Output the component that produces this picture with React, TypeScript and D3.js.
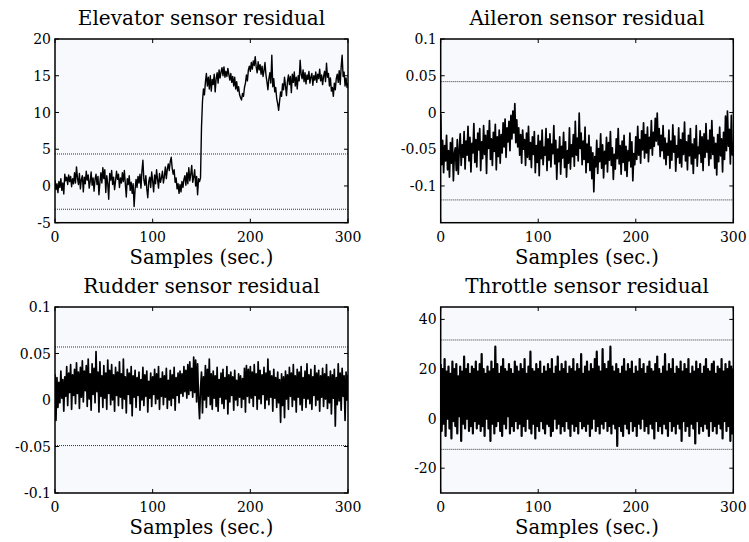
import React from 'react';
import * as d3 from 'd3';

// ---------- data (one value per second) ----------
const elevator = [
  0.8, -0.5, 0.3, -0.9, 0.6, -0.2, 1.0, -0.6, 0.4, -1.1,
  1.6, 0.7, 1.2, 0.2, 1.5, 0.6, 1.3, -0.1, 1.0, 0.3,
  1.8, 0.4, 2.6, 1.1, 0.2, 1.7, -0.4, 0.9, 1.4, -0.8,
  1.2, 0.3, 2.0, 0.8, 1.5, -0.3, 0.6, 1.9, 0.1, 1.1,
  -0.7, 0.9, 1.6, 0.2, 1.3, -1.2, 0.5, 1.8, 0.4, 2.5,
  1.0, 2.2, -0.9, 1.4, 0.3, -1.8, 1.7, 0.8, 2.1, 0.2,
  1.2, -0.5, 0.7, 2.0, 0.9, 1.6, -0.2, 1.1, 0.4, 1.8,
  0.6, 2.1, 0.3, -1.5, 1.0, 0.2, 1.4, -0.6, 0.5, -1.0,
  0.3, -2.8, -0.5, 0.9, -0.2, 1.3, 0.4, 1.6, -0.3, 2.0,
  3.5, 0.8, 0.1, 1.4, -0.4, -1.6, 0.6, 1.2, -0.2, 1.9,
  0.7, -0.8, 1.5, 0.3, 2.2, 0.9, -0.3, 1.7, 0.5, 1.1,
  2.0, 0.4, 1.3, 2.6, 1.0, 2.3, 3.0, 2.1, 3.3, 3.9,
  2.4, 1.6, 2.2, 0.5, 1.1, -0.4, 0.3, -1.0, 0.2, -0.8,
  0.6, -0.2, 0.9, 1.4, 0.1, 1.8, 0.3, 2.5, 0.7, 1.6,
  2.8, 0.5, 1.2, 2.2, 0.0, 1.3, -1.2, 1.0, 0.6, 1.1,
  8.0, 11.5, 13.2, 12.4, 14.1, 15.3, 13.6, 14.8, 13.2, 15.0,
  12.9, 14.5, 13.8, 15.2, 12.8, 14.6, 15.4, 14.0, 15.8, 14.7,
  15.5, 16.1, 15.0, 16.2, 14.8, 15.6, 14.9, 16.0, 15.2, 14.4,
  15.3, 14.1, 14.9, 13.6, 14.8, 13.2, 14.2, 12.9, 13.5, 12.4,
  12.0, 11.7, 12.6, 12.2, 13.4, 14.0, 15.1, 14.3, 15.8, 16.3,
  15.6, 16.8, 15.9, 17.0, 16.4, 17.6, 16.2, 15.4, 16.9, 15.8,
  16.5, 15.2, 16.3, 14.9, 15.7, 16.8, 15.1, 14.2, 13.1, 14.6,
  15.4, 14.0, 17.8, 13.5, 14.6, 12.8, 13.4, 11.9, 11.2, 10.3,
  11.6, 12.8, 12.2, 13.9, 13.1, 14.8, 13.6, 12.3, 14.2, 15.1,
  13.8, 14.9, 12.7, 15.2, 14.1, 15.5, 13.6, 14.8, 13.2, 15.0,
  14.3, 17.1, 15.2, 14.6, 15.8, 14.2, 15.4, 13.9, 15.1, 14.5,
  15.6, 14.0, 14.8, 15.3, 13.7, 15.0, 14.4, 15.5, 14.1, 15.2,
  14.6, 15.9, 14.3, 15.1, 13.8, 14.9, 15.6, 14.2, 16.7, 14.8,
  15.3, 13.6, 14.7, 12.9, 13.4, 12.2, 14.0, 13.1, 14.6, 15.2,
  14.1, 15.7, 13.8, 16.2, 17.8, 14.9, 15.5, 13.6, 14.7, 13.4,
  14.0,
];

const aileron = [
  -0.002, -0.071, -0.038, -0.082, -0.045, -0.066, -0.031, -0.078, -0.052, -0.088,
  -0.041, -0.069, -0.035, -0.093, -0.056, -0.048, -0.079, -0.037, -0.084, -0.051,
  -0.029, -0.072, -0.044, -0.061, -0.026, -0.077, -0.039, -0.058, -0.019, -0.066,
  -0.034, -0.081, -0.042, -0.055, -0.015, -0.068, -0.037, -0.074, -0.028, -0.051,
  -0.022, -0.079, -0.040, -0.063, -0.018, -0.057, -0.031, -0.083, -0.025, -0.049,
  -0.011, -0.064, -0.036, -0.072, -0.027, -0.053, -0.016, -0.078, -0.033, -0.060,
  -0.024, -0.069, -0.030, -0.055, -0.014, -0.047, -0.009, -0.061, -0.021, -0.040,
  -0.012, -0.052, -0.004, -0.036, 0.002, -0.028, 0.012, -0.041, -0.010, -0.047,
  -0.021, -0.058, -0.030, -0.069, -0.024, -0.050, -0.037, -0.072, -0.028, -0.061,
  -0.019, -0.064, -0.041, -0.075, -0.033, -0.057, -0.026, -0.082, -0.045, -0.068,
  -0.031, -0.086, -0.039, -0.063, -0.024, -0.071, -0.047, -0.058, -0.022, -0.079,
  -0.036, -0.065, -0.029, -0.074, -0.043, -0.056, -0.018, -0.070, -0.038, -0.091,
  -0.050, -0.067, -0.033, -0.084, -0.046, -0.062, -0.027, -0.075, -0.040, -0.088,
  -0.052, -0.069, -0.021, -0.077, -0.044, -0.060, -0.030, -0.073, -0.012, -0.058,
  -0.035, -0.066, -0.001, -0.049, -0.028, -0.071, -0.039, -0.064, -0.020, -0.082,
  -0.043, -0.068, -0.031, -0.079, -0.047, -0.090, -0.055, -0.108, -0.060, -0.074,
  -0.038, -0.083, -0.049, -0.067, -0.029, -0.076, -0.044, -0.089, -0.053, -0.070,
  -0.034, -0.081, -0.041, -0.065, -0.026, -0.072, -0.048, -0.091, -0.057, -0.077,
  -0.036, -0.063, -0.022, -0.070, -0.045, -0.084, -0.039, -0.068, -0.031, -0.079,
  -0.046, -0.087, -0.052, -0.066, -0.028, -0.074, -0.040, -0.093, -0.056, -0.071,
  -0.033, -0.064, -0.019, -0.058, -0.037, -0.069, -0.025, -0.051, -0.014, -0.062,
  -0.030, -0.055, -0.020, -0.067, -0.034, -0.049, -0.011, -0.058, -0.027, -0.046,
  -0.008, -0.039, -0.001, -0.044, -0.022, -0.060, -0.031, -0.052, -0.018, -0.063,
  -0.035, -0.071, -0.042, -0.058, -0.024, -0.076, -0.039, -0.065, -0.017, -0.054,
  -0.032, -0.080, -0.045, -0.061, -0.021, -0.069, -0.037, -0.074, -0.028, -0.057,
  -0.013, -0.066, -0.040, -0.078, -0.031, -0.059, -0.022, -0.070, -0.043, -0.083,
  -0.036, -0.062, -0.018, -0.073, -0.047, -0.056, -0.025, -0.068, -0.033, -0.079,
  -0.029, -0.061, -0.015, -0.054, -0.038, -0.072, -0.024, -0.063, -0.011, -0.057,
  -0.034, -0.076, -0.042, -0.085, -0.030, -0.067, -0.020, -0.059, -0.036, -0.081,
  -0.027, -0.064, -0.005, -0.052, 0.002, -0.046, -0.023, -0.070, -0.004, -0.058,
  -0.041,
];

const rudder = [
  0.028, -0.022, 0.024, -0.008, 0.019, -0.003, 0.031, 0.002, 0.022, -0.012,
  0.025, 0.004, 0.036, -0.006, 0.029, 0.008, 0.038, -0.010, 0.027, 0.005,
  0.033, -0.004, 0.040, 0.007, 0.030, -0.009, 0.035, 0.003, 0.042, -0.002,
  0.031, 0.010, 0.037, -0.007, 0.044, 0.001, 0.028, -0.011, 0.039, 0.006,
  0.034, -0.003, 0.052, 0.009, 0.030, -0.013, 0.041, 0.004, 0.026, -0.008,
  0.037, 0.002, 0.029, -0.010, 0.043, 0.007, 0.032, -0.005, 0.038, 0.000,
  0.027, -0.012, 0.035, 0.005, 0.030, -0.006, 0.041, 0.003, 0.028, -0.009,
  0.044, 0.001, 0.025, -0.014, 0.033, 0.006, 0.029, -0.004, 0.036, -0.017,
  0.026, 0.003, 0.032, -0.008, 0.024, 0.005, 0.030, -0.011, 0.022, 0.000,
  0.035, -0.006, 0.027, 0.004, 0.031, -0.013, 0.020, 0.002, 0.029, -0.007,
  0.025, 0.006, 0.033, -0.004, 0.028, 0.001, 0.036, -0.010, 0.023, 0.004,
  0.030, -0.005, 0.026, 0.003, 0.034, -0.009, 0.021, 0.000, 0.032, -0.006,
  0.027, 0.002, 0.035, -0.011, 0.024, 0.005, 0.029, -0.003, 0.031, 0.007,
  0.028, 0.004, 0.036, 0.009, 0.032, 0.002, 0.038, 0.006, 0.041, 0.010,
  0.034, 0.003, 0.046, 0.008, 0.043, -0.002, 0.039, 0.001, -0.020, 0.012,
  0.030, -0.014, 0.025, 0.000, 0.037, -0.008, 0.033, 0.004, 0.044, -0.005,
  0.028, -0.010, 0.031, 0.002, 0.026, -0.007, 0.035, -0.012, 0.022, 0.003,
  0.029, -0.004, 0.033, -0.009, 0.024, 0.001, 0.036, -0.015, 0.027, -0.002,
  0.030, 0.005, 0.025, -0.011, 0.032, 0.000, 0.021, -0.006, 0.028, 0.003,
  0.026, -0.008, 0.023, 0.001, 0.034, -0.013, 0.037, 0.004, 0.033, -0.003,
  0.036, 0.002, 0.030, -0.007, 0.038, 0.005, 0.028, -0.010, 0.041, 0.001,
  0.032, -0.004, 0.027, 0.006, 0.035, -0.009, 0.029, 0.000, 0.044, -0.005,
  0.031, 0.003, 0.026, -0.012, 0.033, 0.002, 0.024, -0.008, 0.030, -0.003,
  0.022, -0.024, 0.028, -0.006, 0.025, -0.019, 0.031, 0.001, 0.027, -0.010,
  0.035, 0.004, 0.029, -0.007, 0.038, 0.000, 0.026, -0.013, 0.033, 0.003,
  0.030, -0.005, 0.036, -0.011, 0.024, 0.002, 0.031, -0.008, 0.039, 0.001,
  0.027, -0.004, 0.033, -0.010, 0.025, 0.005, 0.037, -0.006, 0.029, 0.000,
  0.032, -0.012, 0.026, 0.003, 0.034, -0.007, 0.028, 0.001, 0.038, -0.009,
  0.025, -0.003, 0.031, -0.015, 0.027, 0.002, 0.033, -0.028, 0.024, -0.005,
  0.039, -0.001, 0.029, -0.011, 0.034, 0.004, 0.026, -0.022, 0.030, 0.000,
  0.027,
];

const throttle = [
  22, -5, 20, -2, 24, -7, 19, 0, 21, -4,
  18, -8, 23, -1, 20, -3, 22, -6, 17, 1,
  21, -9, 19, -2, 25, -4, 20, 0, 22, -5,
  18, -3, 21, -6, 20, -1, 23, -4, 19, -2,
  22, -5, 26, -3, 20, -7, 18, 0, 21, -4,
  19, -9, 23, -2, 20, -6, 29, -3, 22, -1,
  18, -5, 21, -7, 24, -2, 20, -4, 19, 1,
  22, -6, 20, -3, 18, -5, 23, -1, 21, -4,
  19, -2, 22, -7, 20, -3, 24, -5, 18, 0,
  21, -4, 27, -6, 20, -2, 19, -8, 22, -3,
  20, -5, 23, -1, 18, -4, 21, -6, 19, -2,
  22, -3, 20, -7, 24, -5, 18, 0, 21, -4,
  25, -2, 19, -6, 22, -3, 20, -5, 23, -1,
  18, -4, 21, -7, 20, -2, 24, -5, 19, -3,
  22, -6, 20, -1, 26, -4, 18, -3, 21, -5,
  23, -2, 19, -7, 22, -4, 20, 0, 24, -5,
  27, -3, 21, -6, 19, -2, 28, -4, 22, -1,
  20, -5, 23, -3, 29, -6, 21, -2, 19, -4,
  22, -11, 20, -3, 18, -5, 21, -7, 24, -2,
  19, -4, 22, -6, 20, -1, 23, -5, 18, -3,
  21, -7, 19, -2, 24, -4, 20, 0, 22, -5,
  18, -3, 21, -6, 23, -2, 20, -4, 19, -8,
  22, -1, 25, -5, 20, -3, 18, -6, 21, -2,
  26, -4, 19, -7, 22, -1, 20, -5, 24, -3,
  18, -6, 21, -2, 20, -4, 23, -9, 19, -1,
  22, -5, 20, -3, 24, -7, 18, -2, 21, -4,
  19, -10, 23, -1, 20, -6, 22, -3, 18, -5,
  21, -2, 24, -4, 20, -7, 19, -1, 22, -5,
  23, -3, 18, -6, 21, -2, 20, -4, 24, -8,
  19, -1, 22, -5, 20, -3, 23, -9, 21, -6,
  20,
];

// threshold (dotted) lines
const elevatorThresholds = [4.35, -3.17];
const aileronThresholds = [0.042, -0.119];
const rudderThresholds = [0.057, -0.049];
const throttleThresholds = [31.7, -12.4];

// axis ticks
const xTicks = [0, 100, 200, 300];
const elevatorTicks = [-5, 0, 5, 10, 15, 20];
const aileronTicks = [-0.1, -0.05, 0, 0.05, 0.1];
const rudderTicks = [-0.1, -0.05, 0, 0.05, 0.1];
const throttleTicks = [-20, 0, 20, 40];

const titles = [
  'Elevator sensor residual',
  'Aileron sensor residual',
  'Rudder sensor residual',
  'Throttle sensor residual',
];
const xLabel = 'Samples (sec.)';

const FONT = 'DejaVu Serif';

type PanelProps = {
  id: string;
  box: { x0: number; x1: number; y0: number; y1: number };
  domain: [number, number];
  data: number[];
  thresholds: number[];
  yTicks: number[];
  title: string;
  lineWidth: number;
};

function Panel({ id, box, domain, data, thresholds, yTicks, title, lineWidth }: PanelProps) {
  const x = d3.scaleLinear().domain([0, 300]).range([box.x0, box.x1]);
  const y = d3.scaleLinear().domain(domain).range([box.y1, box.y0]);
  const line = d3
    .line<number>()
    .x((_, i) => x(i))
    .y((d) => y(d));
  const tl = 4;
  const cx = (box.x0 + box.x1) / 2;
  return (
    <g>
      <defs>
        <clipPath id={`clip-${id}`}>
          <rect x={box.x0} y={box.y0} width={box.x1 - box.x0} height={box.y1 - box.y0} />
        </clipPath>
      </defs>
      <rect
        x={box.x0}
        y={box.y0}
        width={box.x1 - box.x0}
        height={box.y1 - box.y0}
        fill="#f7f9fd"
      />
      {thresholds.map((t, i) => (
        <line
          key={`t${i}`}
          x1={box.x0}
          x2={box.x1}
          y1={y(t)}
          y2={y(t)}
          stroke="#333"
          strokeWidth={1}
          strokeDasharray="1,1"
        />
      ))}
      <path
        d={line(data) || ''}
        fill="none"
        stroke="#000"
        strokeWidth={lineWidth}
        strokeLinejoin="round"
        clipPath={`url(#clip-${id})`}
      />
      {xTicks.map((t) => (
        <g key={`xt${t}`}>
          <line x1={x(t)} x2={x(t)} y1={box.y1} y2={box.y1 - tl} stroke="#000" strokeWidth={1} />
          <line x1={x(t)} x2={x(t)} y1={box.y0} y2={box.y0 + tl} stroke="#000" strokeWidth={1} />
          <text
            x={x(t)}
            y={box.y1 + 19}
            textAnchor="middle"
            fontFamily={FONT}
            fontSize={14}
            fill="#000"
          >
            {t}
          </text>
        </g>
      ))}
      {yTicks.map((t) => (
        <g key={`yt${t}`}>
          <line x1={box.x0} x2={box.x0 + tl} y1={y(t)} y2={y(t)} stroke="#000" strokeWidth={1} />
          <line x1={box.x1} x2={box.x1 - tl} y1={y(t)} y2={y(t)} stroke="#000" strokeWidth={1} />
          <text
            x={box.x0 - 4}
            y={y(t)}
            dy="0.36em"
            textAnchor="end"
            fontFamily={FONT}
            fontSize={14}
            fill="#000"
          >
            {String(t)}
          </text>
        </g>
      ))}
      <rect
        x={box.x0}
        y={box.y0}
        width={box.x1 - box.x0}
        height={box.y1 - box.y0}
        fill="none"
        stroke="#000"
        strokeWidth={1.5}
      />
      <text
        x={cx}
        y={box.y0 - 14}
        textAnchor="middle"
        fontFamily={FONT}
        fontSize={20}
        fill="#000"
      >
        {title}
      </text>
      <text
        x={cx}
        y={box.y1 + 41}
        textAnchor="middle"
        fontFamily={FONT}
        fontSize={19.5}
        fill="#000"
      >
        {xLabel}
      </text>
    </g>
  );
}

export default function App() {
  const L = { x0: 55, x1: 348 };
  const R = { x0: 440.7, x1: 733.3 };
  const T = { y0: 39, y1: 222.7 };
  const B = { y0: 307, y1: 493 };
  return (
    <svg
      width={749}
      height={542}
      style={{ position: 'absolute', left: 0, top: 0, background: '#fff' }}
    >
      <rect x={0} y={0} width={749} height={542} fill="#fff" />
      <Panel
        id="elev"
        box={{ ...L, ...T }}
        domain={[-5, 20]}
        data={elevator}
        thresholds={elevatorThresholds}
        yTicks={elevatorTicks}
        title={titles[0]}
        lineWidth={1.4}
      />
      <Panel
        id="ail"
        box={{ ...R, ...T }}
        domain={[-0.15, 0.1]}
        data={aileron}
        thresholds={aileronThresholds}
        yTicks={aileronTicks}
        title={titles[1]}
        lineWidth={1.7}
      />
      <Panel
        id="rud"
        box={{ ...L, ...B }}
        domain={[-0.1, 0.1]}
        data={rudder}
        thresholds={rudderThresholds}
        yTicks={rudderTicks}
        title={titles[2]}
        lineWidth={1.7}
      />
      <Panel
        id="thr"
        box={{ ...R, ...B }}
        domain={[-30, 45]}
        data={throttle}
        thresholds={throttleThresholds}
        yTicks={throttleTicks}
        title={titles[3]}
        lineWidth={2.2}
      />
    </svg>
  );
}
